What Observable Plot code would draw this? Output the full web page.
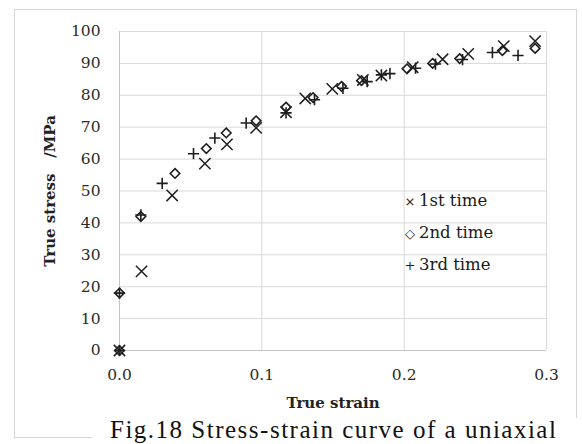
<!DOCTYPE html>
<html>
<head>
<meta charset="utf-8">
<script src="https://cdn.jsdelivr.net/npm/d3@7"></script>
<script src="https://cdn.jsdelivr.net/npm/@observablehq/plot@0.6"></script>
<style>
  html, body { margin: 0; padding: 0; background: #fff; }
  #wrap { position: relative; width: 582px; height: 444px; overflow: hidden; background: #fff; }
  #frame { position: absolute; left: 14px; top: 9px; width: 563px; height: 429px; border: 1px solid #d6d6d6; box-sizing: border-box; }
  #chart { position: absolute; left: 0; top: 0; }
  #legend { position: absolute; left: 401px; top: 190px; font-family: "DejaVu Serif", serif; font-size: 16.5px; color: #1a1a1a; }
  #legend .row { height: 32px; line-height: 22px; white-space: nowrap; }
  #legend .sym { display: inline-block; width: 18px; text-align: center; font-size: 13px; }
  #caption { position: absolute; left: 92px; top: 418px; width: 490px; height: 26px; background: #fff; }
  #caption span { position: absolute; left: 18px; top: -2px; font-family: "Liberation Serif", serif; font-size: 25px; line-height: 27px; letter-spacing: 1.5px; color: #111; white-space: nowrap; }
</style>
</head>
<body>
<div id="wrap">
  <div id="frame"></div>
  <div id="chart"></div>
  <div id="legend"></div>
  <div id="caption"><span>Fig.18 Stress-strain curve of a uniaxial</span></div>
</div>
<script>
// ---- data ----
const strain1 = [0, 0.0155, 0.037, 0.060, 0.0755, 0.096, 0.117, 0.1305, 0.1495, 0.171, 0.184, 0.206, 0.227, 0.245, 0.270, 0.292];
const stress1 = [0, 24.8, 48.6, 58.6, 64.6, 69.8, 74.7, 79.0, 82.0, 84.8, 86.2, 88.8, 91.3, 93.0, 95.4, 97.0];

const strain2 = [0, 0, 0.015, 0.039, 0.061, 0.075, 0.096, 0.117, 0.136, 0.156, 0.170, 0.202, 0.220, 0.239, 0.269, 0.292];
const stress2 = [0, 18.0, 42.0, 55.5, 63.3, 68.2, 72.0, 76.3, 79.3, 82.8, 84.6, 88.3, 90.0, 91.5, 94.0, 94.7];

const strain3 = [0, 0, 0.015, 0.030, 0.052, 0.067, 0.089, 0.117, 0.137, 0.157, 0.174, 0.184, 0.190, 0.208, 0.222, 0.241, 0.262, 0.280];
const stress3 = [0, 18.0, 42.5, 52.4, 61.7, 66.6, 71.3, 74.5, 78.6, 82.2, 84.3, 86.4, 86.8, 88.5, 89.8, 91.2, 93.4, 92.5];

const seriesNames = ["1st time", "2nd time", "3rd time"];
const seriesSymbols = ["×", "◇", "+"];
const xTicks = [0, 0.1, 0.2, 0.3];
const yTicks = [0, 10, 20, 30, 40, 50, 60, 70, 80, 90, 100];
const xTitle = "True strain";
const yTitle = "True stress\u00a0\u00a0\u00a0/MPa";

const toRows = (xs, ys) => xs.map((x, i) => ({x, y: ys[i]}));
const s1 = toRows(strain1, stress1);
const s2 = toRows(strain2, stress2);
const s3 = toRows(strain3, stress3);

const gridColor = "#d9d9d9";
const ink = "#1e1e1e";

const chart = Plot.plot({
  width: 582,
  height: 444,
  marginLeft: 119,
  marginRight: 36,
  marginTop: 31,
  marginBottom: 94,
  style: { fontFamily: "DejaVu Serif, serif", fontSize: "15.5px", background: "transparent", color: "#2a2a2a" },
  x: { domain: [0, 0.3] },
  y: { domain: [0, 100] },
  marks: [
    Plot.gridY(yTicks, { stroke: gridColor, strokeOpacity: 1 }),
    Plot.gridX(xTicks, { stroke: gridColor, strokeOpacity: 1 }),
    Plot.ruleY([0], { stroke: "#c4c4c4" }),
    Plot.ruleX([0], { stroke: "#c4c4c4" }),
    Plot.axisY(yTicks, { tickSize: 0, tickPadding: 19, label: null, tickFormat: d => String(d) }),
    Plot.axisX(xTicks, { tickSize: 0, tickPadding: 18, label: null, tickFormat: d3.format(".1f") }),
    Plot.text([xTitle], { frameAnchor: "bottom", dy: 57, text: d => d, fontWeight: "bold", fontSize: 15, fill: "#222" }),
    Plot.text([yTitle], { frameAnchor: "left", textAnchor: "middle", dx: -69, rotate: -90, text: d => d, fontWeight: "bold", fontSize: 15, fill: "#222" }),
    Plot.dot(s1, { x: "x", y: "y", symbol: "times", r: 5.2, stroke: ink, strokeWidth: 1.5 }),
    Plot.dot(s2, { x: "x", y: "y", symbol: "diamond2", r: 4.3, stroke: ink, strokeWidth: 1.6 }),
    Plot.dot(s3, { x: "x", y: "y", symbol: "plus", r: 3.7, stroke: ink, strokeWidth: 1.6 })
  ]
});
document.getElementById("chart").appendChild(chart);

const legend = document.getElementById("legend");
seriesNames.forEach((name, i) => {
  const row = document.createElement("div");
  row.className = "row";
  const sym = document.createElement("span");
  sym.className = "sym";
  sym.textContent = seriesSymbols[i];
  row.appendChild(sym);
  row.appendChild(document.createTextNode(name));
  legend.appendChild(row);
});
</script>
</body>
</html>
